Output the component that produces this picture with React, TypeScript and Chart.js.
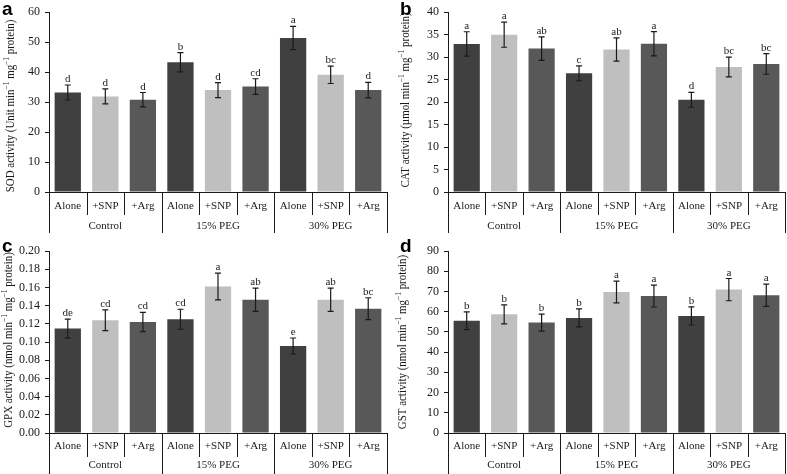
import React, { useEffect, useRef } from 'react';
import { Chart, registerables } from 'chart.js';

Chart.register(...registerables);

// ---------- data ----------
const categories = ['Alone', '+SNP', '+Arg', 'Alone', '+SNP', '+Arg', 'Alone', '+SNP', '+Arg'];
const groups = ['Control', '15% PEG', '30% PEG'];
const treatmentColors = ['#404040', '#bfbfbf', '#585858'];

const sodValues = [33.2, 31.9, 30.8, 43.3, 34.0, 35.2, 51.4, 39.1, 34.0];
const sodErrors = [2.5, 2.5, 2.4, 3.2, 2.5, 2.6, 3.9, 2.9, 2.6];
const sodLetters = ['d', 'd', 'd', 'b', 'd', 'cd', 'a', 'bc', 'd'];
const sodTicks = [0, 10, 20, 30, 40, 50, 60];

const catValues = [32.95, 35.0, 31.9, 26.4, 31.7, 33.0, 20.5, 27.8, 28.5];
const catErrors = [2.7, 2.8, 2.6, 1.65, 2.6, 2.7, 1.65, 2.2, 2.3];
const catLetters = ['a', 'a', 'ab', 'c', 'ab', 'a', 'd', 'bc', 'bc'];
const catTicks = [0, 5, 10, 15, 20, 25, 30, 35, 40];

const gpxValues = [0.1147, 0.1238, 0.122, 0.125, 0.161, 0.1465, 0.0956, 0.1465, 0.1366];
const gpxErrors = [0.0104, 0.0114, 0.0106, 0.011, 0.0147, 0.0128, 0.0088, 0.0128, 0.012];
const gpxLetters = ['de', 'cd', 'cd', 'cd', 'a', 'ab', 'e', 'ab', 'bc'];
const gpxTicks = [0, 0.02, 0.04, 0.06, 0.08, 0.1, 0.12, 0.14, 0.16, 0.18, 0.2];

const gstValues = [55.5, 58.7, 54.6, 56.9, 69.7, 67.7, 57.9, 70.9, 68.1];
const gstErrors = [4.4, 4.7, 4.2, 4.45, 5.4, 5.4, 4.5, 5.5, 5.5];
const gstLetters = ['b', 'b', 'b', 'b', 'a', 'a', 'b', 'a', 'a'];
const gstTicks = [0, 10, 20, 30, 40, 50, 60, 70, 80, 90];

const SERIF = '"Liberation Serif", "Times New Roman", serif';
const INK = '#1a1a1a';

type Seg = { t: string; sup?: boolean };

type PanelCfg = {
  tag: string;
  title: Seg[];
  values: number[];
  errors: number[];
  letters: string[];
  ticks: number[];
  decimals: number;
  x: number; y: number; w: number; h: number;
  left: number; top: number; right: number; bottom: number;
  titleBase: number; titleMid: number; tagX: number; tagY: number;
  labelOff: number; groupOff: number; shortLen: number; longLen: number;
};

function unitTitle(name: string, unit: string): Seg[] {
  return [
    { t: `${name} activity (${unit} min` },
    { t: '−1', sup: true },
    { t: ' mg' },
    { t: '−1', sup: true },
    { t: ' protein)' },
  ];
}

const panels: PanelCfg[] = [
  {
    tag: 'a', title: unitTitle('SOD', 'Unit'), values: sodValues, errors: sodErrors, letters: sodLetters,
    ticks: sodTicks, decimals: 0,
    x: 0, y: 0, w: 393, h: 236, left: 49, top: 11, right: 387, bottom: 192,
    titleBase: 14, titleMid: 106, tagX: 2, tagY: 15, labelOff: 14.5, groupOff: 34.5, shortLen: 23, longLen: 41,
  },
  {
    tag: 'b', title: unitTitle('CAT', 'µmol'), values: catValues, errors: catErrors, letters: catLetters,
    ticks: catTicks, decimals: 0,
    x: 393, y: 0, w: 394, h: 236, left: 55, top: 11, right: 392, bottom: 192,
    titleBase: 16, titleMid: 100, tagX: 7, tagY: 15, labelOff: 14.5, groupOff: 34.5, shortLen: 23, longLen: 41,
  },
  {
    tag: 'c', title: unitTitle('GPX', 'nmol'), values: gpxValues, errors: gpxErrors, letters: gpxLetters,
    ticks: gpxTicks, decimals: 2,
    x: 0, y: 236, w: 393, h: 238, left: 49, top: 15, right: 387, bottom: 197,
    titleBase: 12, titleMid: 104, tagX: 2, tagY: 16, labelOff: 13, groupOff: 32.5, shortLen: 24, longLen: 41,
  },
  {
    tag: 'd', title: unitTitle('GST', 'nmol'), values: gstValues, errors: gstErrors, letters: gstLetters,
    ticks: gstTicks, decimals: 0,
    x: 393, y: 236, w: 394, h: 238, left: 55, top: 15, right: 392, bottom: 197,
    titleBase: 13, titleMid: 106, tagX: 7, tagY: 16, labelOff: 13.5, groupOff: 32.5, shortLen: 24, longLen: 41,
  },
];

function drawVerticalRich(ctx: CanvasRenderingContext2D, segs: Seg[], baseX: number, cy: number, size: number) {
  const supSize = size * 0.68;
  ctx.save();
  ctx.translate(baseX, cy);
  ctx.rotate(-Math.PI / 2);
  ctx.scale(0.84, 1);
  ctx.fillStyle = INK;
  ctx.textAlign = 'left';
  ctx.textBaseline = 'alphabetic';
  let total = 0;
  const widths = segs.map((s) => {
    ctx.font = `${s.sup ? supSize : size}px ${SERIF}`;
    const w = ctx.measureText(s.t).width;
    total += w;
    return w;
  });
  let x = -total / 2;
  segs.forEach((s, i) => {
    ctx.font = `${s.sup ? supSize : size}px ${SERIF}`;
    ctx.fillText(s.t, x, s.sup ? -size * 0.38 : 0);
    x += widths[i];
  });
  ctx.restore();
}

function makeDecor(cfg: PanelCfg) {
  return {
    id: 'decor_' + cfg.tag,
    afterDatasetsDraw(chart: any) {
      const ctx: CanvasRenderingContext2D = chart.ctx;
      const meta = chart.getDatasetMeta(0);
      const ys = chart.scales.y;
      ctx.save();
      ctx.strokeStyle = INK;
      ctx.lineWidth = 1.2;
      ctx.fillStyle = INK;
      ctx.font = `11px ${SERIF}`;
      ctx.textAlign = 'center';
      ctx.textBaseline = 'alphabetic';
      meta.data.forEach((bar: any, i: number) => {
        const v = cfg.values[i];
        const e = cfg.errors[i];
        const yt = ys.getPixelForValue(v + e);
        const yb = ys.getPixelForValue(v - e);
        const x = bar.x;
        ctx.beginPath();
        ctx.moveTo(x, yt);
        ctx.lineTo(x, yb);
        ctx.moveTo(x - 3, yt);
        ctx.lineTo(x + 3, yt);
        ctx.moveTo(x - 3, yb);
        ctx.lineTo(x + 3, yb);
        ctx.stroke();
        ctx.fillText(cfg.letters[i], x, yt - 3);
      });
      ctx.restore();
    },
    afterDraw(chart: any) {
      const ctx: CanvasRenderingContext2D = chart.ctx;
      const xs = chart.scales.x;
      const area = chart.chartArea;
      const n = categories.length;
      const px = (i: number) => xs.getPixelForValue(i);
      const bounds: number[] = [];
      for (let k = 0; k <= n; k++) {
        if (k === 0) bounds.push(area.left);
        else if (k === n) bounds.push(area.right);
        else bounds.push((px(k - 1) + px(k)) / 2);
      }
      const b = area.bottom;
      ctx.save();
      ctx.strokeStyle = INK;
      ctx.lineWidth = 1;
      ctx.beginPath();
      ctx.moveTo(area.left, Math.round(b) + 0.5);
      ctx.lineTo(area.right, Math.round(b) + 0.5);
      bounds.forEach((bx, k) => {
        const xx = Math.round(bx) + 0.5;
        const len = k % 3 === 0 ? cfg.longLen : cfg.shortLen;
        ctx.moveTo(xx, b);
        ctx.lineTo(xx, b + len);
      });
      ctx.stroke();

      ctx.fillStyle = INK;
      ctx.font = `11px ${SERIF}`;
      ctx.textAlign = 'center';
      ctx.textBaseline = 'middle';
      categories.forEach((c, i) => ctx.fillText(c, px(i), b + cfg.labelOff));
      groups.forEach((g, gi) => {
        const cx = (bounds[gi * 3] + bounds[gi * 3 + 3]) / 2;
        ctx.fillText(g, cx, b + cfg.groupOff);
      });

      // y title
      drawVerticalRich(ctx, cfg.title, cfg.titleBase, cfg.titleMid, 13);

      // panel tag
      ctx.font = `bold 19px "Liberation Sans", Arial, sans-serif`;
      ctx.textAlign = 'left';
      ctx.textBaseline = 'alphabetic';
      ctx.fillStyle = '#000';
      ctx.fillText(cfg.tag, cfg.tagX, cfg.tagY);
      ctx.restore();
    },
  };
}

function Panel({ cfg }: { cfg: PanelCfg }) {
  const ref = useRef<HTMLCanvasElement>(null);
  useEffect(() => {
    const canvas = ref.current!;
    const tmin = cfg.ticks[0];
    const tmax = cfg.ticks[cfg.ticks.length - 1];
    const step = cfg.ticks[1] - cfg.ticks[0];
    const chart = new Chart(canvas, {
      type: 'bar',
      data: {
        labels: categories,
        datasets: [
          {
            data: cfg.values,
            backgroundColor: categories.map((_, i) => treatmentColors[i % 3]),
            borderWidth: 0,
            barPercentage: 0.7,
            categoryPercentage: 1,
          },
        ],
      },
      options: {
        animation: false,
        responsive: false,
        devicePixelRatio: 1,
        layout: {
          padding: { left: 0, top: cfg.top, right: cfg.w - cfg.right, bottom: cfg.h - cfg.bottom },
        },
        plugins: { legend: { display: false }, tooltip: { enabled: false } },
        scales: {
          x: { display: false },
          y: {
            min: tmin,
            max: tmax,
            afterFit: (s: any) => { s.width = cfg.left; },
            afterBuildTicks: (s: any) => { s.ticks = cfg.ticks.map((v) => ({ value: v })); },
            ticks: {
              stepSize: step,
              color: INK,
              padding: 5,
              font: { family: SERIF, size: 12 },
              callback: (v: any) => Number(v).toFixed(cfg.decimals),
            },
            grid: { drawOnChartArea: false, drawTicks: true, tickLength: 4, color: INK, lineWidth: 1 },
            border: { display: true, color: INK, width: 1 },
          },
        },
      },
      plugins: [makeDecor(cfg)],
    });
    return () => chart.destroy();
  }, [cfg]);
  return (
    <canvas
      ref={ref}
      width={cfg.w}
      height={cfg.h}
      style={{ position: 'absolute', left: cfg.x, top: cfg.y, width: cfg.w, height: cfg.h }}
    />
  );
}

export default function App() {
  return (
    <div style={{ position: 'absolute', left: 0, top: 0, width: 787, height: 474, background: '#fff', overflow: 'hidden' }}>
      {panels.map((p) => (
        <Panel key={p.tag} cfg={p} />
      ))}
    </div>
  );
}
